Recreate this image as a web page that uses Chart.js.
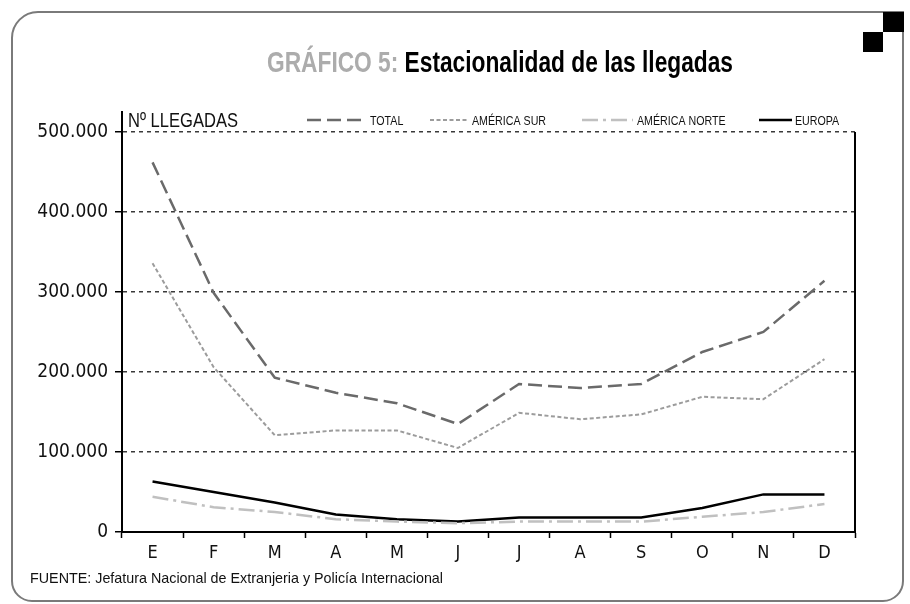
<!DOCTYPE html>
<html>
<head>
<meta charset="utf-8">
<script src="https://cdn.jsdelivr.net/npm/chart.js@4.4.1/dist/chart.umd.min.js"></script>
<style>
  body { margin: 0; background: #fff; }
  canvas { display: block; }
</style>
</head>
<body>
<canvas id="grafico-llegadas" width="910" height="604"></canvas>
<script>
// Datos
const meses = ['E', 'F', 'M', 'A', 'M', 'J', 'J', 'A', 'S', 'O', 'N', 'D'];
const total = [462000, 299000, 193000, 174000, 161000, 135000, 185000, 180000, 185000, 225000, 250000, 314000];
const americaSur = [336000, 206000, 121000, 127000, 127000, 105000, 149000, 141000, 147000, 169000, 166000, 216000];
const americaNorte = [44000, 31000, 25000, 16000, 13000, 11000, 13000, 13000, 13000, 19000, 25000, 35000];
const europa = [63000, 50000, 37000, 22000, 16000, 13000, 18000, 18000, 18000, 30000, 47000, 47000];
const ticksY = [0, 100000, 200000, 300000, 400000, 500000];

const FUENTE_EJES = "'DejaVu Sans Condensed', 'DejaVu Sans', sans-serif";
const FUENTE = "'Liberation Sans', Arial, sans-serif";

// Posiciones de la leyenda (x inicio línea, x fin línea, x texto)
const leyenda = [
    { x1: 307, x2: 366, tx: 370 },
    { x1: 430, x2: 468, tx: 472 },
    { x1: 582, x2: 633, tx: 637 },
    { x1: 759, x2: 792, tx: 795 }
];

// Formato con punto de miles
function formatoMiles(v) {
    return v.toString().replace(/\B(?=(\d{3})+(?!\d))/g, '.');
}

// Texto estrechado horizontalmente (imitando una fuente condensada)
function textoEstrecho(ctx, texto, x, y, escala) {
    ctx.save();
    ctx.translate(x, y);
    ctx.scale(escala, 1);
    ctx.fillText(texto, 0, 0);
    ctx.restore();
}

// Plugin para marco, título, leyenda y textos
const decoracion = {
    id: 'decoracion',
    beforeDraw(chart) {
        const ctx = chart.ctx;
        ctx.save();
        ctx.fillStyle = '#fff';
        ctx.fillRect(0, 0, chart.width, chart.height);
        // marco redondeado
        ctx.strokeStyle = '#7a7a7a';
        ctx.lineWidth = 2;
        ctx.beginPath();
        ctx.roundRect(12, 12, 891, 589, [26, 0, 20, 20]);
        ctx.stroke();
        // cuadros negros
        ctx.fillStyle = '#000';
        ctx.fillRect(883, 12, 21, 20);
        ctx.fillRect(863, 32, 20, 20);
        ctx.restore();
    },
    afterDraw(chart) {
        const ctx = chart.ctx;
        const area = chart.chartArea;
        ctx.save();

        // borde derecho y prolongación del eje Y
        ctx.strokeStyle = '#000';
        ctx.lineWidth = 2;
        ctx.beginPath();
        ctx.moveTo(area.right, area.top);
        ctx.lineTo(area.right, area.bottom);
        ctx.moveTo(area.left, area.top);
        ctx.lineTo(area.left, area.top - 21);
        ctx.stroke();

        // título, ajustado al ancho del original
        ctx.font = 'bold 30px ' + FUENTE;
        ctx.textBaseline = 'alphabetic';
        ctx.textAlign = 'left';
        const parte1 = 'GRÁFICO 5: ';
        const parte2 = 'Estacionalidad de las llegadas';
        const w1 = ctx.measureText(parte1).width;
        const w2 = ctx.measureText(parte2).width;
        const esc = 466 / (w1 + w2);
        ctx.fillStyle = '#acacac';
        textoEstrecho(ctx, parte1, 267, 72, esc);
        ctx.fillStyle = '#000';
        textoEstrecho(ctx, parte2, 267 + w1 * esc, 72, esc);

        // título del eje
        ctx.font = '20px ' + FUENTE;
        ctx.fillStyle = '#111';
        const wEje = ctx.measureText('Nº LLEGADAS').width;
        textoEstrecho(ctx, 'Nº LLEGADAS', area.left + 6, 127, 110 / wEje);

        // leyenda
        ctx.font = '13px ' + FUENTE;
        chart.data.datasets.forEach((ds, i) => {
            const p = leyenda[i];
            ctx.strokeStyle = ds.borderColor;
            ctx.lineWidth = ds.borderWidth;
            ctx.setLineDash(ds.borderDash || []);
            ctx.beginPath();
            ctx.moveTo(p.x1, 120);
            ctx.lineTo(p.x2, 120);
            ctx.stroke();
            ctx.setLineDash([]);
            ctx.fillStyle = '#111';
            textoEstrecho(ctx, ds.label, p.tx, 125, 0.82);
        });

        // fuente
        ctx.font = '14.5px ' + FUENTE;
        ctx.fillStyle = '#111';
        const src = 'FUENTE: Jefatura Nacional de Extranjeria y Policía Internacional';
        textoEstrecho(ctx, src, 30, 583, 413 / ctx.measureText(src).width);
        ctx.restore();
    }
};

const ctxLlegadas = document.getElementById('grafico-llegadas').getContext('2d');
new Chart(ctxLlegadas, {
    type: 'line',
    data: {
        labels: meses,
        datasets: [
            { label: 'TOTAL', data: total, borderColor: '#6a6a6a', borderWidth: 2.5, borderDash: [14, 6] },
            { label: 'AMÉRICA SUR', data: americaSur, borderColor: '#9c9c9c', borderWidth: 2, borderDash: [4, 2.5] },
            { label: 'AMÉRICA NORTE', data: americaNorte, borderColor: '#c0c0c0', borderWidth: 2.5, borderDash: [16, 5, 3, 5] },
            { label: 'EUROPA', data: europa, borderColor: '#000', borderWidth: 2.5 }
        ]
    },
    options: {
        responsive: false,
        animation: false,
        elements: {
            point: { radius: 0 },
            line: { tension: 0, fill: false }
        },
        layout: { padding: { left: 0, top: 132, right: 55, bottom: 0 } },
        plugins: {
            legend: { display: false },
            tooltip: { enabled: false }
        },
        scales: {
            x: {
                offset: true,
                afterFit: s => { s.height = 72; },
                grid: {
                    offset: true,
                    drawOnChartArea: false,
                    tickLength: 6,
                    tickColor: '#000',
                    tickWidth: 1.5
                },
                border: { color: '#000', width: 2 },
                ticks: {
                    color: '#111',
                    padding: 5,
                    font: { family: FUENTE_EJES, size: 18 }
                }
            },
            y: {
                min: 0,
                max: 500000,
                afterFit: s => { s.width = 122; },
                afterBuildTicks: s => { s.ticks = ticksY.map(v => ({ value: v })); },
                grid: {
                    color: ctx => ctx.tick && ctx.tick.value === 0 ? 'rgba(0,0,0,0)' : '#3a3a3a',
                    lineWidth: 1.5,
                    tickLength: 7,
                    tickColor: '#000',
                    tickWidth: 1.5,
                    tickBorderDash: []
                },
                border: { color: '#000', width: 2, dash: [4, 4] },
                ticks: {
                    color: '#111',
                    padding: 7,
                    font: { family: FUENTE_EJES, size: 19 },
                    callback: v => formatoMiles(v)
                }
            }
        }
    },
    plugins: [decoracion]
});
</script>
</body>
</html>
